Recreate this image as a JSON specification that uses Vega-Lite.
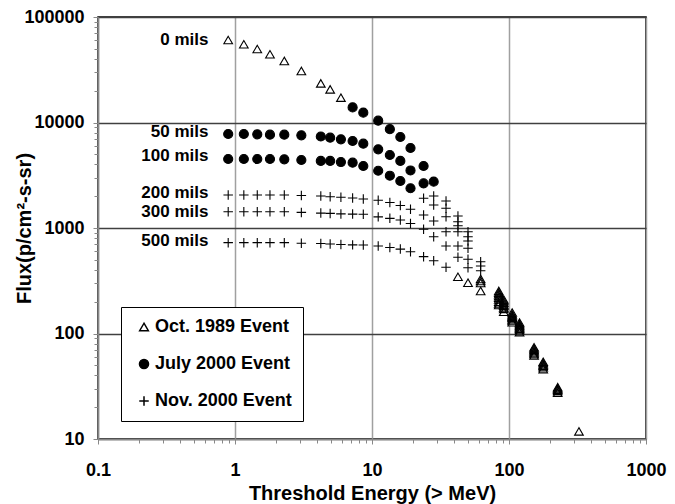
{
  "$schema": "https://vega.github.io/schema/vega-lite/v6.json",
  "width": 548,
  "height": 422,
  "autosize": {"type": "none"},
  "padding": {"left": 98, "top": 17, "right": 29, "bottom": 65},
  "background": "white",
  "config": {"view": {"stroke": "black", "strokeWidth": 1.5}, "font": "Liberation Sans"},
  "datasets": {
    "labels": [
      {"label": "0 mils", "x": 0.64, "y": 61000},
      {"label": "50 mils", "x": 0.64, "y": 8100},
      {"label": "100 mils", "x": 0.64, "y": 4830},
      {"label": "200 mils", "x": 0.64, "y": 2170},
      {"label": "300 mils", "x": 0.64, "y": 1403},
      {"label": "500 mils", "x": 0.64, "y": 750}
    ],
    "pts": [
      {"e": "July 2000 Event", "x": 7.22, "y": 13900},
      {"e": "July 2000 Event", "x": 8.64, "y": 12400},
      {"e": "July 2000 Event", "x": 11.1, "y": 10400},
      {"e": "July 2000 Event", "x": 13.5, "y": 8640},
      {"e": "July 2000 Event", "x": 16.1, "y": 7290},
      {"e": "July 2000 Event", "x": 19.1, "y": 5730},
      {"e": "July 2000 Event", "x": 23.8, "y": 3870},
      {"e": "July 2000 Event", "x": 0.892, "y": 7780},
      {"e": "July 2000 Event", "x": 1.16, "y": 7780},
      {"e": "July 2000 Event", "x": 1.454, "y": 7730},
      {"e": "July 2000 Event", "x": 1.8, "y": 7660},
      {"e": "July 2000 Event", "x": 2.29, "y": 7660},
      {"e": "July 2000 Event", "x": 3.05, "y": 7560},
      {"e": "July 2000 Event", "x": 4.23, "y": 7370},
      {"e": "July 2000 Event", "x": 4.95, "y": 7180},
      {"e": "July 2000 Event", "x": 5.93, "y": 6930},
      {"e": "July 2000 Event", "x": 7.22, "y": 6680},
      {"e": "July 2000 Event", "x": 8.64, "y": 6300},
      {"e": "July 2000 Event", "x": 11.1, "y": 5570},
      {"e": "July 2000 Event", "x": 13.5, "y": 4920},
      {"e": "July 2000 Event", "x": 16.1, "y": 4320},
      {"e": "July 2000 Event", "x": 19.1, "y": 3510},
      {"e": "July 2000 Event", "x": 23.8, "y": 2650},
      {"e": "July 2000 Event", "x": 0.892, "y": 4510},
      {"e": "July 2000 Event", "x": 1.16, "y": 4510},
      {"e": "July 2000 Event", "x": 1.454, "y": 4510},
      {"e": "July 2000 Event", "x": 1.8, "y": 4510},
      {"e": "July 2000 Event", "x": 2.29, "y": 4480},
      {"e": "July 2000 Event", "x": 3.05, "y": 4410},
      {"e": "July 2000 Event", "x": 4.23, "y": 4320},
      {"e": "July 2000 Event", "x": 4.95, "y": 4320},
      {"e": "July 2000 Event", "x": 5.93, "y": 4220},
      {"e": "July 2000 Event", "x": 7.22, "y": 4160},
      {"e": "July 2000 Event", "x": 8.64, "y": 3870},
      {"e": "July 2000 Event", "x": 11.1, "y": 3490},
      {"e": "July 2000 Event", "x": 13.5, "y": 3130},
      {"e": "July 2000 Event", "x": 16.1, "y": 2790},
      {"e": "July 2000 Event", "x": 19.1, "y": 2380},
      {"e": "July 2000 Event", "x": 28.2, "y": 2750},

      {"e": "Nov. 2000 Event", "x": 0.892, "y": 2055},
      {"e": "Nov. 2000 Event", "x": 1.16, "y": 2055},
      {"e": "Nov. 2000 Event", "x": 1.454, "y": 2055},
      {"e": "Nov. 2000 Event", "x": 1.8, "y": 2055},
      {"e": "Nov. 2000 Event", "x": 2.29, "y": 2055},
      {"e": "Nov. 2000 Event", "x": 3.05, "y": 2030},
      {"e": "Nov. 2000 Event", "x": 4.23, "y": 2010},
      {"e": "Nov. 2000 Event", "x": 4.95, "y": 1980},
      {"e": "Nov. 2000 Event", "x": 5.93, "y": 1954},
      {"e": "Nov. 2000 Event", "x": 7.22, "y": 1925},
      {"e": "Nov. 2000 Event", "x": 8.64, "y": 1883},
      {"e": "Nov. 2000 Event", "x": 11.1, "y": 1830},
      {"e": "Nov. 2000 Event", "x": 13.5, "y": 1745},
      {"e": "Nov. 2000 Event", "x": 16.1, "y": 1635},
      {"e": "Nov. 2000 Event", "x": 19.1, "y": 1505},
      {"e": "Nov. 2000 Event", "x": 0.892, "y": 1427},
      {"e": "Nov. 2000 Event", "x": 1.16, "y": 1427},
      {"e": "Nov. 2000 Event", "x": 1.454, "y": 1427},
      {"e": "Nov. 2000 Event", "x": 1.8, "y": 1427},
      {"e": "Nov. 2000 Event", "x": 2.29, "y": 1427},
      {"e": "Nov. 2000 Event", "x": 3.05, "y": 1405},
      {"e": "Nov. 2000 Event", "x": 4.23, "y": 1385},
      {"e": "Nov. 2000 Event", "x": 4.95, "y": 1375},
      {"e": "Nov. 2000 Event", "x": 5.93, "y": 1360},
      {"e": "Nov. 2000 Event", "x": 7.22, "y": 1355},
      {"e": "Nov. 2000 Event", "x": 8.64, "y": 1350},
      {"e": "Nov. 2000 Event", "x": 11.1, "y": 1275},
      {"e": "Nov. 2000 Event", "x": 13.5, "y": 1235},
      {"e": "Nov. 2000 Event", "x": 16.1, "y": 1190},
      {"e": "Nov. 2000 Event", "x": 19.1, "y": 1105},
      {"e": "Nov. 2000 Event", "x": 0.892, "y": 726},
      {"e": "Nov. 2000 Event", "x": 1.16, "y": 726},
      {"e": "Nov. 2000 Event", "x": 1.454, "y": 726},
      {"e": "Nov. 2000 Event", "x": 1.8, "y": 726},
      {"e": "Nov. 2000 Event", "x": 2.29, "y": 726},
      {"e": "Nov. 2000 Event", "x": 3.05, "y": 716},
      {"e": "Nov. 2000 Event", "x": 4.23, "y": 712},
      {"e": "Nov. 2000 Event", "x": 4.95, "y": 705},
      {"e": "Nov. 2000 Event", "x": 5.93, "y": 698},
      {"e": "Nov. 2000 Event", "x": 7.22, "y": 692},
      {"e": "Nov. 2000 Event", "x": 8.64, "y": 690},
      {"e": "Nov. 2000 Event", "x": 11.1, "y": 675},
      {"e": "Nov. 2000 Event", "x": 13.5, "y": 653},
      {"e": "Nov. 2000 Event", "x": 16.1, "y": 631},
      {"e": "Nov. 2000 Event", "x": 19.1, "y": 595},
      {"e": "Nov. 2000 Event", "x": 23.8, "y": 1912},
      {"e": "Nov. 2000 Event", "x": 23.8, "y": 1328},
      {"e": "Nov. 2000 Event", "x": 23.8, "y": 972},
      {"e": "Nov. 2000 Event", "x": 23.8, "y": 535},
      {"e": "Nov. 2000 Event", "x": 28.2, "y": 2011},
      {"e": "Nov. 2000 Event", "x": 28.2, "y": 1652},
      {"e": "Nov. 2000 Event", "x": 28.2, "y": 1165},
      {"e": "Nov. 2000 Event", "x": 28.2, "y": 827},
      {"e": "Nov. 2000 Event", "x": 28.2, "y": 490},
      {"e": "Nov. 2000 Event", "x": 34.7, "y": 1803},
      {"e": "Nov. 2000 Event", "x": 34.7, "y": 1537},
      {"e": "Nov. 2000 Event", "x": 34.7, "y": 1280},
      {"e": "Nov. 2000 Event", "x": 34.7, "y": 922},
      {"e": "Nov. 2000 Event", "x": 34.7, "y": 675},
      {"e": "Nov. 2000 Event", "x": 34.7, "y": 424},
      {"e": "Nov. 2000 Event", "x": 42.4, "y": 1299},
      {"e": "Nov. 2000 Event", "x": 42.4, "y": 1147},
      {"e": "Nov. 2000 Event", "x": 42.4, "y": 1051},
      {"e": "Nov. 2000 Event", "x": 42.4, "y": 922},
      {"e": "Nov. 2000 Event", "x": 42.4, "y": 675},
      {"e": "Nov. 2000 Event", "x": 42.4, "y": 528},
      {"e": "Nov. 2000 Event", "x": 50.2, "y": 922},
      {"e": "Nov. 2000 Event", "x": 50.2, "y": 827},
      {"e": "Nov. 2000 Event", "x": 50.2, "y": 753},
      {"e": "Nov. 2000 Event", "x": 50.2, "y": 642},
      {"e": "Nov. 2000 Event", "x": 50.2, "y": 505},
      {"e": "Nov. 2000 Event", "x": 50.2, "y": 420},
      {"e": "Nov. 2000 Event", "x": 62.1, "y": 479},
      {"e": "Nov. 2000 Event", "x": 62.1, "y": 436},
      {"e": "Nov. 2000 Event", "x": 62.1, "y": 394},

      {"e": "Oct. 1989 Event", "x": 0.892, "y": 60500},
      {"e": "Oct. 1989 Event", "x": 1.16, "y": 55100},
      {"e": "Oct. 1989 Event", "x": 1.454, "y": 49700},
      {"e": "Oct. 1989 Event", "x": 1.8, "y": 44300},
      {"e": "Oct. 1989 Event", "x": 2.29, "y": 38300},
      {"e": "Oct. 1989 Event", "x": 3.05, "y": 30800},
      {"e": "Oct. 1989 Event", "x": 4.23, "y": 23500},
      {"e": "Oct. 1989 Event", "x": 4.95, "y": 20600},
      {"e": "Oct. 1989 Event", "x": 5.93, "y": 17200},
      {"e": "Oct. 1989 Event", "x": 42.4, "y": 345},
      {"e": "Oct. 1989 Event", "x": 50.2, "y": 303},
      {"e": "Oct. 1989 Event", "x": 62.1, "y": 329},
      {"e": "Oct. 1989 Event", "x": 62.1, "y": 315},
      {"e": "Oct. 1989 Event", "x": 62.1, "y": 301},
      {"e": "Oct. 1989 Event", "x": 62.1, "y": 253},
      {"e": "Oct. 1989 Event", "x": 84.2, "y": 253},
      {"e": "Oct. 1989 Event", "x": 84.2, "y": 244},
      {"e": "Oct. 1989 Event", "x": 84.2, "y": 236},
      {"e": "Oct. 1989 Event", "x": 84.2, "y": 227},
      {"e": "Oct. 1989 Event", "x": 84.2, "y": 219},
      {"e": "Oct. 1989 Event", "x": 84.2, "y": 210},
      {"e": "Oct. 1989 Event", "x": 84.2, "y": 200},
      {"e": "Oct. 1989 Event", "x": 84.2, "y": 193},
      {"e": "Oct. 1989 Event", "x": 84.2, "y": 186},
      {"e": "Oct. 1989 Event", "x": 91.6, "y": 210},
      {"e": "Oct. 1989 Event", "x": 91.6, "y": 203},
      {"e": "Oct. 1989 Event", "x": 91.6, "y": 196},
      {"e": "Oct. 1989 Event", "x": 91.6, "y": 189},
      {"e": "Oct. 1989 Event", "x": 91.6, "y": 183},
      {"e": "Oct. 1989 Event", "x": 91.6, "y": 177},
      {"e": "Oct. 1989 Event", "x": 91.6, "y": 171},
      {"e": "Oct. 1989 Event", "x": 91.6, "y": 161},
      {"e": "Oct. 1989 Event", "x": 105.5, "y": 158},
      {"e": "Oct. 1989 Event", "x": 105.5, "y": 152},
      {"e": "Oct. 1989 Event", "x": 105.5, "y": 148},
      {"e": "Oct. 1989 Event", "x": 105.5, "y": 144},
      {"e": "Oct. 1989 Event", "x": 105.5, "y": 141},
      {"e": "Oct. 1989 Event", "x": 105.5, "y": 137},
      {"e": "Oct. 1989 Event", "x": 105.5, "y": 133},
      {"e": "Oct. 1989 Event", "x": 105.5, "y": 128},
      {"e": "Oct. 1989 Event", "x": 119.4, "y": 127},
      {"e": "Oct. 1989 Event", "x": 119.4, "y": 123},
      {"e": "Oct. 1989 Event", "x": 119.4, "y": 120},
      {"e": "Oct. 1989 Event", "x": 119.4, "y": 117},
      {"e": "Oct. 1989 Event", "x": 119.4, "y": 114},
      {"e": "Oct. 1989 Event", "x": 119.4, "y": 111},
      {"e": "Oct. 1989 Event", "x": 119.4, "y": 108},
      {"e": "Oct. 1989 Event", "x": 119.4, "y": 103},
      {"e": "Oct. 1989 Event", "x": 152.4, "y": 74},
      {"e": "Oct. 1989 Event", "x": 152.4, "y": 72},
      {"e": "Oct. 1989 Event", "x": 152.4, "y": 70},
      {"e": "Oct. 1989 Event", "x": 152.4, "y": 68},
      {"e": "Oct. 1989 Event", "x": 152.4, "y": 66},
      {"e": "Oct. 1989 Event", "x": 152.4, "y": 64},
      {"e": "Oct. 1989 Event", "x": 152.4, "y": 62},
      {"e": "Oct. 1989 Event", "x": 177.7, "y": 54},
      {"e": "Oct. 1989 Event", "x": 177.7, "y": 52.5},
      {"e": "Oct. 1989 Event", "x": 177.7, "y": 51},
      {"e": "Oct. 1989 Event", "x": 177.7, "y": 49.5},
      {"e": "Oct. 1989 Event", "x": 177.7, "y": 48},
      {"e": "Oct. 1989 Event", "x": 177.7, "y": 46},
      {"e": "Oct. 1989 Event", "x": 226.6, "y": 31},
      {"e": "Oct. 1989 Event", "x": 226.6, "y": 30.2},
      {"e": "Oct. 1989 Event", "x": 226.6, "y": 29.4},
      {"e": "Oct. 1989 Event", "x": 226.6, "y": 28.6},
      {"e": "Oct. 1989 Event", "x": 226.6, "y": 27.5},
      {"e": "Oct. 1989 Event", "x": 324, "y": 11.8}
    ]
  },
  "resolve": {"axis": {"x": "independent", "y": "independent"}},
  "layer": [
    {
      "data": {"name": "labels"},
      "mark": {"type": "text", "align": "right", "baseline": "middle", "font": "Liberation Sans", "fontSize": 17, "fontWeight": "bold", "color": "black"},
      "encoding": {
        "x": {"field": "x", "type": "quantitative", "scale": {"type": "log", "domain": [0.1, 1000], "nice": false},
          "axis": {"orient": "bottom", "values": [0.2,0.3,0.4,0.5,0.6,0.7,0.8,0.9,2,3,4,5,6,7,8,9,20,30,40,50,60,70,80,90,200,300,400,500,600,700,800,900],
            "grid": false, "labels": false, "domain": false, "ticks": true, "tickSize": 4, "tickColor": "#888888", "tickWidth": 1, "title": null}},
        "y": {"field": "y", "type": "quantitative", "scale": {"type": "log", "domain": [10, 100000], "nice": false},
          "axis": {"orient": "left", "values": [20,30,40,50,60,70,80,90,200,300,400,500,600,700,800,900,2000,3000,4000,5000,6000,7000,8000,9000,20000,30000,40000,50000,60000,70000,80000,90000],
            "grid": false, "labels": false, "domain": false, "ticks": true, "tickSize": 4, "tickColor": "#888888", "tickWidth": 1, "title": null}},
        "text": {"field": "label", "type": "nominal"}
      }
    },
    {
      "data": {"name": "pts"},
      "mark": {"type": "point", "filled": true, "stroke": "black", "strokeWidth": 1.1, "opacity": 1},
      "encoding": {
        "x": {"field": "x", "type": "quantitative", "scale": {"type": "log", "domain": [0.1, 1000], "nice": false},
          "axis": {"orient": "bottom", "values": [0.1, 1, 10, 100, 1000], "format": "~g", "grid": true, "gridColor": "#a0a0a0", "gridWidth": 1.5,
            "domainColor": "#888888", "domainWidth": 1.5, "tickColor": "#888888", "tickSize": 5, "labelPadding": 17, "labelFlush": false,
            "labelFont": "Liberation Sans", "labelFontSize": 18, "labelFontWeight": "bold", "labelColor": "black",
            "title": "Threshold Energy (> MeV)", "titleFont": "Liberation Sans", "titleFontSize": 20, "titleFontWeight": "bold", "titleColor": "black",
            "titleY": 54, "titleBaseline": "middle"}},
        "y": {"field": "y", "type": "quantitative", "scale": {"type": "log", "domain": [10, 100000], "nice": false},
          "axis": {"orient": "left", "values": [10, 100, 1000, 10000, 100000], "format": "~g", "grid": true, "gridColor": "#404040", "gridWidth": 1.5,
            "domainColor": "#888888", "domainWidth": 1.5, "tickColor": "#888888", "tickSize": 5, "labelPadding": 9, "labelFlush": false,
            "labelFont": "Liberation Sans", "labelFontSize": 18, "labelFontWeight": "bold", "labelColor": "black",
            "title": "Flux(p/cm²-s-sr)", "titleFont": "Liberation Sans", "titleFontSize": 20, "titleFontWeight": "bold", "titleColor": "black",
            "titleX": -74, "titleY": 211, "titleAngle": -90, "titleAlign": "center", "titleBaseline": "middle"}},
        "shape": {"field": "e", "type": "nominal",
          "scale": {"domain": ["Oct. 1989 Event", "July 2000 Event", "Nov. 2000 Event"], "range": ["triangle-up", "circle", "M-1,0L1,0M0,-1L0,1"]},
          "legend": {"title": null, "orient": "none", "legendX": 23, "legendY": 290, "strokeColor": "black", "fillColor": "white", "padding": 11, "rowPadding": 19, "symbolOffset": 3, "labelOffset": 2, "labelFont": "Liberation Sans", "labelFontSize": 18, "labelFontWeight": "bold", "labelColor": "black", "labelLimit": 300,
            "encode": {"symbols": {"update": {"stroke": {"value": "black"}, "strokeWidth": {"value": 1.1}}}}}},
        "fill": {"field": "e", "type": "nominal",
          "scale": {"domain": ["Oct. 1989 Event", "July 2000 Event", "Nov. 2000 Event"], "range": ["transparent", "black", "transparent"]},
          "legend": {"title": null, "orient": "none", "legendX": 23, "legendY": 290, "strokeColor": "black", "fillColor": "white", "padding": 11, "rowPadding": 19, "symbolOffset": 3, "labelOffset": 2, "labelFont": "Liberation Sans", "labelFontSize": 18, "labelFontWeight": "bold", "labelColor": "black", "labelLimit": 300,
            "encode": {"symbols": {"update": {"stroke": {"value": "black"}, "strokeWidth": {"value": 1.1}}}}}},
        "size": {"field": "e", "type": "nominal",
          "scale": {"domain": ["Oct. 1989 Event", "July 2000 Event", "Nov. 2000 Event"], "range": [75, 90, 65]},
          "legend": {"title": null, "orient": "none", "legendX": 23, "legendY": 290, "strokeColor": "black", "fillColor": "white", "padding": 11, "rowPadding": 19, "symbolOffset": 3, "labelOffset": 2, "labelFont": "Liberation Sans", "labelFontSize": 18, "labelFontWeight": "bold", "labelColor": "black", "labelLimit": 300,
            "encode": {"symbols": {"update": {"stroke": {"value": "black"}, "strokeWidth": {"value": 1.1}}}}}}
      }
    }
  ]
}
